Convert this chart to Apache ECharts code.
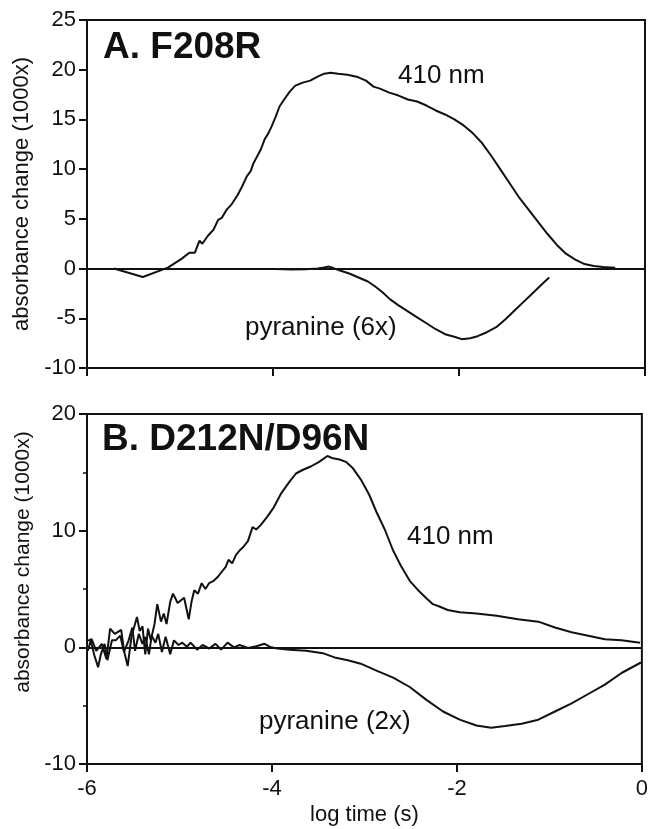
<!DOCTYPE html>
<html>
<head>
<meta charset="utf-8">
<script src="https://cdn.jsdelivr.net/npm/echarts@6/dist/echarts.min.js"></script>
<style>
html,body{margin:0;padding:0;background:#fff;}
#c{width:651px;height:829px;}
</style>
</head>
<body>
<div id="c"></div>
<script>
// ---- Data ----
const xTicks = [-6, -4, -2, 0];

// Panel A: F208R, 410 nm
const a410_x = [-5.71,-5.40,-5.13,-4.98,-4.90,-4.84,-4.79,-4.76,-4.70,-4.64,-4.59,-4.55,-4.50,-4.45,-4.38,-4.33,-4.28,-4.24,-4.21,-4.17,-4.13,-4.09,-4.05,-4.01,-3.97,-3.93,-3.88,-3.82,-3.76,-3.68,-3.60,-3.52,-3.45,-3.38,-3.30,-3.20,-3.10,-3.00,-2.92,-2.85,-2.75,-2.65,-2.55,-2.45,-2.35,-2.25,-2.15,-2.05,-1.95,-1.85,-1.75,-1.65,-1.55,-1.45,-1.35,-1.25,-1.15,-1.05,-0.95,-0.85,-0.75,-0.65,-0.55,-0.45,-0.32];
const a410_y = [0,-0.85,0.1,1.0,1.6,1.6,2.8,2.5,3.3,3.9,4.9,5.1,5.9,6.4,7.4,8.3,9.3,9.8,10.6,11.3,12.0,13.0,13.6,14.4,15.3,16.3,17.0,17.8,18.4,18.7,18.9,19.3,19.6,19.7,19.6,19.5,19.3,18.9,18.3,18.1,17.7,17.4,17.0,16.8,16.4,15.9,15.5,15.0,14.4,13.6,12.6,11.3,9.9,8.5,7.1,5.9,4.7,3.5,2.4,1.5,0.9,0.45,0.25,0.15,0.08];

// Panel A: pyranine (6x)
const aPyr_x = [-3.98,-3.80,-3.65,-3.52,-3.45,-3.40,-3.35,-3.28,-3.18,-3.08,-2.98,-2.90,-2.82,-2.74,-2.65,-2.55,-2.45,-2.35,-2.25,-2.15,-2.05,-1.97,-1.88,-1.80,-1.70,-1.60,-1.50,-1.40,-1.30,-1.20,-1.10,-1.03];
const aPyr_y = [-0.05,-0.1,-0.08,0.0,0.1,0.2,0.05,-0.2,-0.5,-0.9,-1.3,-1.8,-2.4,-3.1,-3.7,-4.3,-4.9,-5.5,-6.1,-6.6,-6.85,-7.1,-7.0,-6.8,-6.4,-5.9,-5.1,-4.2,-3.3,-2.4,-1.5,-0.9];

// Panel B: D212N/D96N, 410 nm
const b410_x = [-5.99,-5.95,-5.90,-5.84,-5.79,-5.75,-5.70,-5.63,-5.60,-5.56,-5.52,-5.46,-5.43,-5.40,-5.37,-5.34,-5.31,-5.27,-5.24,-5.20,-5.17,-5.14,-5.10,-5.07,-5.02,-4.99,-4.95,-4.90,-4.87,-4.84,-4.80,-4.76,-4.72,-4.68,-4.63,-4.59,-4.54,-4.50,-4.47,-4.43,-4.39,-4.35,-4.31,-4.26,-4.21,-4.17,-4.12,-4.05,-3.98,-3.90,-3.81,-3.74,-3.67,-3.58,-3.49,-3.40,-3.34,-3.27,-3.20,-3.13,-3.04,-2.95,-2.87,-2.78,-2.69,-2.60,-2.51,-2.42,-2.33,-2.26,-2.19,-2.10,-1.97,-1.79,-1.57,-1.34,-1.12,-0.94,-0.76,-0.58,-0.40,-0.22,-0.02];
const b410_y = [0.57,0.7,-0.3,0.3,-1.0,1.6,1.15,1.5,-0.3,-1.6,0.86,2.6,1.4,1.8,-0.6,1.6,0.6,2.0,3.7,2.2,2.9,2.0,3.9,4.6,3.8,4.0,4.25,2.4,3.9,4.9,4.6,5.5,5.0,5.5,5.7,6.0,6.5,6.9,7.5,7.2,7.9,8.3,8.6,9.1,10.3,10.1,10.5,11.2,12.0,13.2,14.2,14.9,15.2,15.5,15.9,16.4,16.2,16.1,15.9,15.4,14.4,13.1,11.6,10.1,8.3,6.9,5.7,4.9,4.2,3.7,3.5,3.2,3.0,2.9,2.7,2.4,2.2,1.7,1.3,1.0,0.7,0.6,0.4];

// Panel B: pyranine (2x)
const bPyr_x = [-5.99,-5.96,-5.92,-5.88,-5.85,-5.81,-5.78,-5.73,-5.69,-5.64,-5.60,-5.55,-5.51,-5.48,-5.44,-5.40,-5.37,-5.33,-5.30,-5.26,-5.23,-5.19,-5.15,-5.10,-5.06,-5.01,-4.97,-4.92,-4.88,-4.81,-4.75,-4.68,-4.61,-4.55,-4.48,-4.41,-4.35,-4.26,-4.17,-4.08,-4.01,-3.94,-3.81,-3.63,-3.45,-3.31,-3.18,-3.04,-2.87,-2.69,-2.51,-2.33,-2.15,-1.97,-1.79,-1.63,-1.48,-1.30,-1.12,-0.94,-0.76,-0.58,-0.40,-0.22,-0.01];
const bPyr_y = [-0.3,0.6,-0.7,-1.7,-0.6,0.3,-1.1,0.6,0.6,1.0,-0.4,0.6,1.7,-0.3,1.15,0.3,0.9,-0.6,1.0,0.4,1.15,-0.4,0.9,-0.6,0.6,0.2,0.4,0.05,0.4,-0.2,0.2,-0.1,0.3,-0.2,0.4,0.0,0.2,-0.05,0.1,0.3,0.0,-0.1,-0.2,-0.3,-0.5,-0.9,-1.1,-1.4,-2.0,-2.6,-3.4,-4.5,-5.5,-6.2,-6.7,-6.9,-6.75,-6.55,-6.2,-5.5,-4.8,-4.0,-3.2,-2.2,-1.3];

const panelTitles = ['A. F208R', 'B. D212N/D96N'];
const yTitle = 'absorbance change (1000x)';
const xTitle = 'log time (s)';

// ---- Build ----
const zip = (xs, ys) => xs.map((x, i) => [x, ys[i]]);
const FONT = 'Liberation Sans, Arial, Helvetica, sans-serif';
const INK = '#111';

const chart = echarts.init(document.getElementById('c'), null, {renderer: 'canvas'});

const axisCommon = {
  axisLine: {show: true, onZero: false, lineStyle: {color: INK, width: 2}},
  axisTick: {show: true, inside: false, length: 8, lineStyle: {color: INK, width: 2}},
  splitLine: {show: false},
  axisLabel: {color: INK, fontFamily: FONT, fontSize: 22}
};

const lineSeries = (name, data, xi, yi, withZero) => {
  const s = {
    name, type: 'line', data, xAxisIndex: xi, yAxisIndex: yi,
    showSymbol: false, symbol: 'none', smooth: false,
    lineStyle: {color: INK, width: 2}, silent: true, animation: false
  };
  if (withZero) {
    s.markLine = {
      silent: true, symbol: ['none', 'none'], label: {show: false},
      lineStyle: {color: INK, width: 2, type: 'solid'},
      data: [{yAxis: 0}]
    };
  }
  return s;
};

const option = {
  backgroundColor: '#fff',
  animation: false,
  grid: [
    {left: 87, top: 20, width: 558, height: 348, show: true, borderColor: INK, borderWidth: 2, backgroundColor: 'transparent'},
    {left: 87, top: 414, width: 558, height: 350, show: true, borderColor: INK, borderWidth: 2, backgroundColor: 'transparent'}
  ],
  xAxis: [
    Object.assign({}, axisCommon, {type: 'value', gridIndex: 0, min: xTicks[0], max: xTicks[xTicks.length-1], interval: 2,
      axisLabel: {show: false}}),
    Object.assign({}, axisCommon, {type: 'value', gridIndex: 1, min: xTicks[0], max: xTicks[xTicks.length-1], interval: 2,
      axisLabel: {color: INK, fontFamily: FONT, fontSize: 22, margin: 14},
      name: xTitle, nameLocation: 'middle', nameGap: 40,
      nameTextStyle: {color: INK, fontFamily: FONT, fontSize: 22}})
  ],
  yAxis: [
    Object.assign({}, axisCommon, {type: 'value', gridIndex: 0, min: -10, max: 25, interval: 5,
      axisLabel: {color: INK, fontFamily: FONT, fontSize: 22, margin: 11},
      name: yTitle, nameLocation: 'middle', nameGap: 47,
      nameTextStyle: {color: INK, fontFamily: FONT, fontSize: 22}}),
    Object.assign({}, axisCommon, {type: 'value', gridIndex: 1, min: -10, max: 20, interval: 10,
      axisLabel: {color: INK, fontFamily: FONT, fontSize: 22, margin: 11},
      minorTick: {show: true, splitNumber: 2, length: 4, lineStyle: {color: INK, width: 1.5}},
      name: yTitle, nameLocation: 'middle', nameGap: 47,
      nameTextStyle: {color: INK, fontFamily: FONT, fontSize: 21, padding: [0, 0, 0, 54]}})
  ],
  series: [
    lineSeries('A 410 nm', zip(a410_x, a410_y), 0, 0, true),
    lineSeries('A pyranine (6x)', zip(aPyr_x, aPyr_y), 0, 0, false),
    lineSeries('B 410 nm', zip(b410_x, b410_y), 1, 1, true),
    lineSeries('B pyranine (2x)', zip(bPyr_x, bPyr_y), 1, 1, false)
  ],
  graphic: [
    {type: 'text', left: 103, top: 29, style: {text: panelTitles[0], fill: INK, font: 'bold 37px ' + FONT}},
    {type: 'text', left: 102, top: 421, style: {text: panelTitles[1], fill: INK, font: 'bold 37px ' + FONT}},
    {type: 'text', left: 398, top: 63, style: {text: '410 nm', fill: INK, font: '26px ' + FONT}},
    {type: 'text', left: 245, top: 315, style: {text: 'pyranine (6x)', fill: INK, font: '26px ' + FONT}},
    {type: 'text', left: 407, top: 524, style: {text: '410 nm', fill: INK, font: '26px ' + FONT}},
    {type: 'text', left: 259, top: 709, style: {text: 'pyranine (2x)', fill: INK, font: '26px ' + FONT}}
  ]
};
chart.setOption(option);
</script>
</body>
</html>
